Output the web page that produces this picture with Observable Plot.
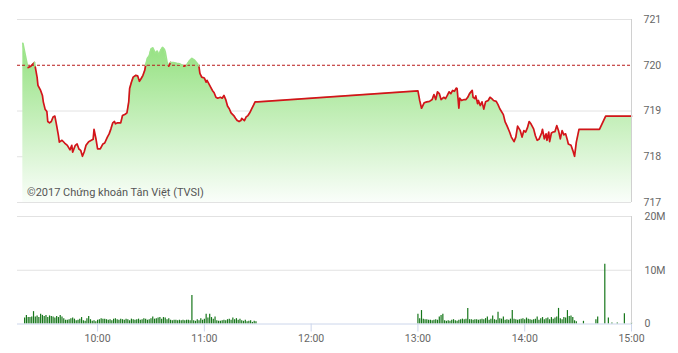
<!DOCTYPE html>
<html><head><meta charset="utf-8">
<script src="https://cdn.jsdelivr.net/npm/d3@7"></script>
<script src="https://cdn.jsdelivr.net/npm/@observablehq/plot@0.6"></script>
<style>
body{margin:0;background:#fff;font-family:Roboto,sans-serif}
#wrap{position:relative;width:678px;height:353px;overflow:hidden;background:#fff}
#top,#bot{position:absolute;left:0}
#top{top:0}#bot{top:208px}
#caption{position:absolute;left:27px;top:186px;font:11px Roboto,sans-serif;color:#555;white-space:nowrap}
svg [aria-label="x-axis tick"]{stroke:#ccd6eb}
</style></head><body>
<div id="wrap"><div id="top"></div><div id="bot"></div><div id="caption">©2017 Chứng khoán Tân Việt (TVSI)</div></div>
<script>
// ---- data ----
const priceTimes = ["9:18","9:20:30","9:21","9:22:30","9:24:30","9:25","9:26","9:26:30","9:28","9:29","9:29:30","9:30:30","9:31:30","9:32","9:33","9:34","9:35","9:36","9:37","9:38","9:38:30","9:40","9:41:30","9:43","9:44:30","9:45:30","9:46","9:47:30","9:48:30","9:49:30","9:50:30","9:51:30","9:52:30","9:53:30","9:55","9:56:30","9:57:30","9:58","9:59","10:00","10:01:30","10:03","10:04","10:05:30","10:06:30","10:07:30","10:08:30","10:09:30","10:10","10:11","10:13","10:14","10:15:30","10:16:30","10:17:30","10:18","10:19","10:20","10:21:30","10:22:30","10:23:30","10:24:30","10:25:30","10:26:30","10:27","10:28","10:29","10:30","10:31","10:32:30","10:33:30","10:34:30","10:35:30","10:36:30","10:37:30","10:38","10:39","10:40","10:41","10:42:30","10:44:30","10:46","10:47","10:48:30","10:50","10:51:30","10:53","10:54:30","10:56","10:57","10:57:30","10:58:30","11:00","11:01","11:01:30","11:03","11:04:30","11:05:30","11:06:30","11:07:30","11:09","11:10","11:11","11:12","11:13","11:14","11:15","11:16:30","11:17:30","11:18:30","11:19:30","11:20:30","11:21","11:22:30","11:23:30","11:24:30","11:25:30","11:26:30","11:27:30","11:28:30","11:30",
"13:00","13:01","13:02","13:03:30","13:05","13:06:30","13:08","13:09","13:10","13:11","13:12","13:13","13:14:30","13:15:30","13:16:30","13:17:30","13:18:30","13:19:30","13:20:30","13:21:30","13:22","13:23","13:23:30","13:24:30","13:26","13:27","13:28","13:29","13:30:30","13:31","13:32","13:32:30","13:33:30","13:34","13:35","13:36","13:37","13:38","13:39:30","13:40:30","13:41:30","13:42:30","13:44","13:45","13:46","13:48","13:49","13:50","13:51:30","13:52:30","13:54","13:55","13:56","13:57:30","13:58:30","13:59:30","14:00:30","14:01:30","14:02:30","14:03:30","14:05","14:06","14:07","14:08","14:09:30","14:10","14:11","14:12","14:12:30","14:13:30","14:14","14:15","14:16","14:17","14:18","14:19","14:20","14:21","14:22","14:23","14:24","14:24:30","14:26","14:27","14:28","14:29","14:30:30","14:42","14:45:30","15:00"];
const prices = [720.48,720.00,719.95,719.98,720.06,719.96,719.74,719.56,719.45,719.34,719.20,719.04,718.99,718.77,718.74,718.77,718.87,718.89,718.68,718.46,718.32,718.36,718.30,718.25,718.15,718.25,718.10,718.25,718.28,718.17,718.14,718.01,718.11,718.25,718.33,718.36,718.38,718.60,718.41,718.17,718.17,718.28,718.30,718.43,718.50,718.61,718.74,718.77,718.72,718.74,718.74,718.90,718.93,718.96,719.20,719.49,719.63,719.74,719.78,719.77,719.65,719.71,719.78,719.89,720.00,720.15,720.20,720.35,720.38,720.26,720.31,720.22,720.33,720.39,720.35,720.29,720.07,719.98,720.06,720.06,720.04,720.03,720.01,719.98,720.00,720.09,720.15,720.11,720.04,719.96,719.82,719.74,719.72,719.63,719.67,719.56,719.45,719.40,719.30,719.28,719.30,719.28,719.34,719.25,719.11,719.05,718.96,718.90,718.84,718.79,718.77,718.79,718.84,718.79,718.87,718.90,718.96,719.04,719.12,719.20,719.20,
719.44,719.23,719.06,719.18,719.20,719.21,719.25,719.36,719.25,719.42,719.38,719.25,719.30,719.27,719.34,719.42,719.38,719.45,719.43,719.50,719.49,719.06,719.28,719.23,719.25,719.25,719.30,719.38,719.45,719.30,719.27,719.33,719.16,719.23,719.12,719.20,719.04,719.20,719.23,719.30,719.27,719.23,719.21,719.14,719.05,718.92,718.76,718.68,718.54,718.43,718.33,718.43,718.67,718.57,718.43,718.57,718.54,718.63,718.77,718.72,718.61,718.46,718.36,718.38,718.52,718.60,718.39,718.50,718.36,718.54,718.33,718.52,718.54,718.55,718.68,718.57,718.39,718.57,718.48,718.50,718.36,718.28,718.25,718.14,718.01,718.32,718.60,718.60,718.89,718.89];
const reference = 720;

// volume in millions, one bar per minute
const volMorningStart = "9:19";
const volMorning = [1.1,1.6,1.2,1.2,1.3,2.3,1.3,1.5,1.2,1.8,1.6,1.4,1.6,1.2,1.5,1.4,1.3,1.1,1.4,1.2,1.6,1.3,
1.0,0.7,0.7,0.8,1.0,1.1,0.9,0.6,0.7,0.9,1.2,0.6,0.5,1.0,1.4,0.8,0.5,0.6,0.4,0.7,
0.8,1.0,0.9,0.9,0.8,0.7,0.8,0.6,0.9,1.0,0.8,0.7,0.9,0.8,0.7,0.9,0.8,0.6,0.9,0.8,0.7,0.8,0.9,0.7,0.8,1.0,0.9,0.7,0.8,1.0,
1.3,0.9,1.0,1.1,1.2,0.9,1.2,1.1,0.8,1.0,0.7,0.6,0.7,0.7,0.6,0.7,0.6,0.7,0.6,0.7,0.7,0.6,
5.3,
0.6,0.5,0.8,0.6,1.0,0.7,0.9,1.8,1.1,1.8,1.2,0.9,1.3,0.6,0.5,0.5,0.6,0.7,0.6,0.8,0.9,0.7,1.1,0.8,1.0,0.7,0.9,0.6,0.5,0.7,0.4,0.5,0.6,0.3,0.5,0.4];
const volAfternoonStart = "13:00";
const volAfternoon = [1.8,1.0,2.5,0.9,0.8,0.8,0.7,0.7,0.6,0.7,
0.8,0.7,1.3,1.6,1.8,0.6,0.5,0.6,0.5,0.7,
0.8,0.6,0.5,0.7,0.8,0.9,0.8,0.9,2.9,0.8,
0.8,0.7,0.8,0.8,0.7,0.8,0.9,0.8,1.0,1.3,
0.7,0.9,1.5,0.8,0.7,2.2,1.0,0.9,1.3,0.7,
0.8,0.7,0.9,2.5,0.9,0.8,0.7,0.8,0.9,1.0,
0.8,1.1,0.9,0.8,0.7,0.8,0.9,1.3,0.7,1.0,
1.2,0.8,1.0,1.1,0.8,1.2,0.9,1.1,1.3,2.9,
1.0,0.8,1.2,1.1,2.5,1.4,1.5,1.2,0.6,0.4];
const volLateTimes = ["14:33","14:40","14:41","14:45","14:47","14:49","14:52","14:56","15:00"];
const volLate = [0.5,0.8,1.3,11.1,1.1,0.2,0.2,1.9,0.2];

const priceTicks = [717,718,719,720,721];
const priceGrid = [717,718,719,721];
const volTicks = [0,10,20];
const timeTicks = ["10:00","11:00","12:00","13:00","14:00","15:00"];
const xStart = "9:15", xEnd = "15:00";

// ---- helpers ----
const T = s => { const [h,m,sec=0] = s.split(":").map(Number); return new Date(Date.UTC(2017,0,1,h,m,sec)); };
const addMin = (d,k) => new Date(d.getTime() + k*60000);
const priceData = priceTimes.map((t,i)=>({t:T(t), p:prices[i]}));
const volData = [
  ...volMorning.map((v,i)=>({t:addMin(T(volMorningStart),i), v})),
  ...volAfternoon.map((v,i)=>({t:addMin(T(volAfternoonStart),i), v})),
  ...volLate.map((v,i)=>({t:T(volLateTimes[i]), v}))
];
const xDomain = [T(xStart), T(xEnd)];
const grad = () => {
  const d = d3.create("svg:defs");
  const g = d.append("linearGradient").attr("id","areaGrad").attr("x1",0).attr("y1",0).attr("x2",0).attr("y2",1);
  g.append("stop").attr("offset","0%").attr("stop-color","#93e17f");
  g.append("stop").attr("offset","100%").attr("stop-color","#fafefa");
  return d.node();
};
const common = {width:678, marginLeft:17, marginRight:47,
  style:{fontFamily:"Roboto, sans-serif", fontSize:"10.5px", color:"#666", background:"transparent", overflow:"visible"}};

const priceChart = Plot.plot({
  ...common, height:208, marginTop:19, marginBottom:6,
  x:{domain:xDomain, axis:null},
  y:{domain:[717,721], axis:"right", ticks:priceTicks, tickFormat:d3.format("d"), tickSize:0, tickPadding:12, label:null},
  color:{type:"identity"},
  marks:[
    grad,
    Plot.ruleY(priceGrid, {stroke:"#e2e2e2"}),
    Plot.areaY(priceData, {x:"t", y1:717, y2:"p", fill:"url(#areaGrad)"}),
    Plot.ruleY([reference], {stroke:"#b81a1a", strokeDasharray:"3,2"}),
    Plot.line(priceData, {x:"t", y:"p", z:null, stroke:d => d.p >= reference ? "#9ee48c" : "#d3141a", strokeWidth:1.7}),
    Plot.ruleX([T(xEnd)], {y1:717, y2:721, stroke:"#d0d0d0"})
  ]
});
document.getElementById("top").appendChild(priceChart);

const volChart = Plot.plot({
  ...common, height:145, marginTop:8, marginBottom:29.5,
  x:{domain:xDomain, ticks:timeTicks.map(T), tickFormat:d3.utcFormat("%H:%M"), tickSize:8, tickPadding:3, label:null},
  y:{domain:[0,20], axis:"right", ticks:volTicks, tickFormat:d => d===0 ? "0" : d+"M", tickSize:0, tickPadding:13, label:null},
  marks:[
    Plot.ruleY(volTicks.filter(d=>d>0), {stroke:"#e2e2e2"}),
    Plot.ruleX(volData, {x:"t", y1:0, y2:"v", stroke:"#16761a", strokeWidth:1.2}),
    Plot.ruleY([0], {stroke:"#ccd6eb"}),
    Plot.ruleX([T(xEnd)], {y1:0, y2:20, stroke:"#d0d0d0"})
  ]
});
document.getElementById("bot").appendChild(volChart);
</script></body></html>
